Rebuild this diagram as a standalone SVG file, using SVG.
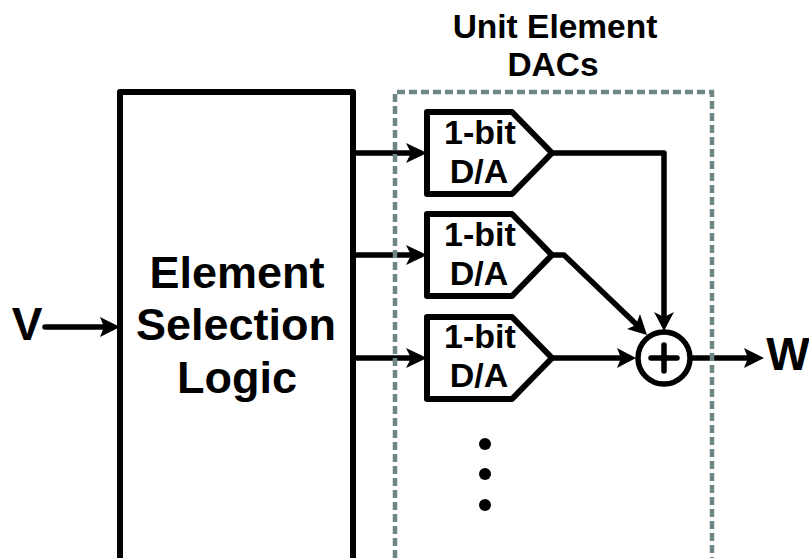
<svg xmlns="http://www.w3.org/2000/svg" width="809" height="558" viewBox="0 0 809 558">
<style>
.ln{fill:none;stroke:#000;stroke-width:5.5;stroke-linejoin:round;stroke-linecap:round}
.bx{fill:#fff;stroke:#000;stroke-width:6;stroke-linejoin:round}
.t{font-family:"Liberation Sans",Arial,sans-serif;font-weight:700;fill:#000;text-anchor:middle}
.big{font-size:45px}.dac{font-size:34px}.hd{font-size:33.5px}.io{font-size:46px}
.ah{fill:#000;stroke:none}
</style>
<rect width="809" height="558" fill="#fff"/>
<g id="connectors">
<path class="ln" d="M45 327H104"/>
<path class="ah" d="M100 317L120 327L100 337L104 327Z"/>
<path class="ln" d="M354 153H412"/>
<path class="ah" d="M406 143L427 153L406 163L411 153Z"/>
<path class="ln" d="M354 255H412"/>
<path class="ah" d="M406 245L427 255L406 265L411 255Z"/>
<path class="ln" d="M354 358H412"/>
<path class="ah" d="M406 348L427 358L406 368L411 358Z"/>
<path class="ln" d="M552 153H664V316"/>
<path class="ah" d="M654 312L664 331L674 312L664 317Z"/>
<path class="ln" d="M552 255H564L636 324"/>
<path class="ah" d="M640 314L647 335L627 329L636 325Z"/>
<path class="ln" d="M552 358H622"/>
<path class="ah" d="M617 348L636 358L617 368L621 358Z"/>
<path class="ln" d="M692 358H750"/>
<path class="ah" d="M744 348L764 358L744 368L748 358Z"/>
</g>
<g id="unit-group">
<path d="M395 558V92H712V558" fill="none" stroke="#6f8686" stroke-width="4.5" stroke-dasharray="8 4"/>
<text class="t hd" x="555" y="37.5">Unit Element</text>
<text class="t hd" x="553" y="75.5">DACs</text>
</g>
<g id="selection-logic">
<path d="M120 558V92H353V558" fill="#fff" stroke="#000" stroke-width="6" stroke-linejoin="round"/>
<text class="t big" x="237" y="288">Element</text>
<text class="t big" x="236" y="340">Selection</text>
<text class="t big" x="237" y="393">Logic</text>
</g>
<g id="dac-1">
<path class="bx" d="M427 112H512L552 153L512 194H427Z"/>
<text class="t dac" x="480" y="144">1-bit</text>
<text class="t dac" x="479" y="183">D/A</text>
</g>
<g id="dac-2">
<path class="bx" d="M427 214H512L552 255L512 296H427Z"/>
<text class="t dac" x="480" y="246">1-bit</text>
<text class="t dac" x="479" y="285">D/A</text>
</g>
<g id="dac-3">
<path class="bx" d="M427 317H512L552 358L512 399H427Z"/>
<text class="t dac" x="480" y="348">1-bit</text>
<text class="t dac" x="479" y="387">D/A</text>
</g>
<g id="summer">
<circle cx="664" cy="358" r="26" fill="#fff" stroke="#000" stroke-width="5.5"/>
<path class="ln" d="M651 358H677M664 345V371"/>
</g>
<g id="dots">
<circle cx="485" cy="444" r="6"/>
<circle cx="485" cy="474" r="6"/>
<circle cx="485" cy="505" r="6"/>
</g>
<g id="input-v"><text class="t io" x="27" y="340">V</text></g>
<g id="output-w"><text class="t io" x="788" y="370">W</text></g>
</svg>
